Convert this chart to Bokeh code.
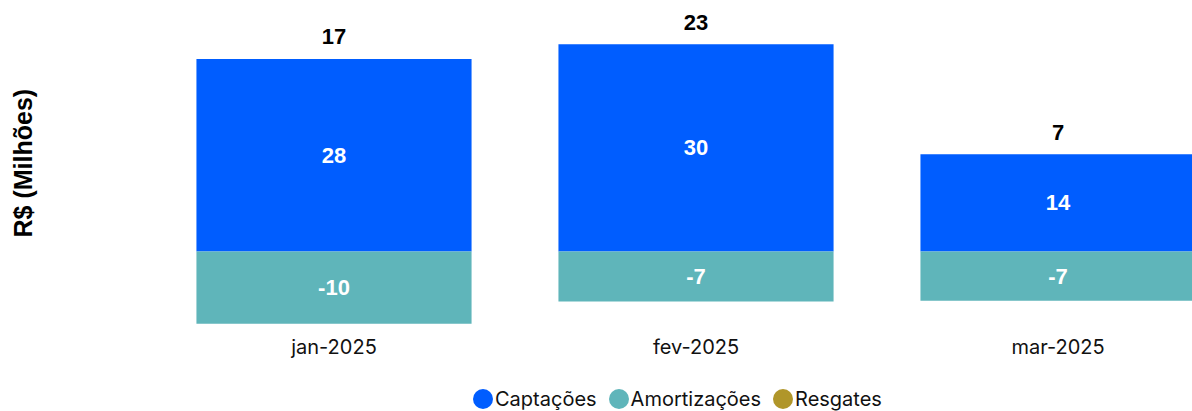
from bokeh.plotting import figure
from bokeh.layouts import column
from bokeh.models import ColumnDataSource, Range1d, FixedTicker, Legend, LegendItem, Title
from bokeh.core.properties import value
from bokeh.embed import file_html
from bokeh.resources import INLINE

# ---- data ----
meses = ["jan-2025", "fev-2025", "mar-2025"]
captacoes = [27.7, 29.8, 14.0]
amortizacoes = [-10.4, -7.2, -7.1]
resgates = [0.0, 0.0, 0.0]
series = ["Captações", "Amortizações", "Resgates"]

COL_CAP = "#005DFF"
COL_AMO = "#5FB5BA"
COL_RES = "#B0962A"

idx = list(range(len(meses)))
totais = [c + a + r for c, a, r in zip(captacoes, amortizacoes, resgates)]
neg_base = [a + r for a, r in zip(amortizacoes, resgates)]

src = ColumnDataSource(dict(
    x=idx,
    cap=captacoes,
    amo=amortizacoes,
    res_top=amortizacoes,
    res_bot=neg_base,
    cap_mid=[c / 2 for c in captacoes],
    amo_mid=[a / 2 for a in amortizacoes],
    cap_lbl=[f"{c:.0f}" for c in captacoes],
    amo_lbl=[f"{a:.0f}" for a in amortizacoes],
    tot_lbl=[f"{t:.0f}" for t in totais],
))

p = figure(width=1192, height=373, output_backend="svg", toolbar_location=None,
           x_range=Range1d(-0.808, 2.3715), y_range=Range1d(-11.37, 34.96),
           min_border_left=41, min_border_right=0, min_border_top=8, min_border_bottom=43)
p.outline_line_color = None
p.xgrid.visible = False
p.ygrid.visible = False
p.yaxis.visible = False

W = 0.76
p.vbar(x="x", top="cap", bottom=0, width=W, color=COL_CAP, line_color=None, source=src)
p.vbar(x="x", top=0, bottom="amo", width=W, color=COL_AMO, line_color=None, source=src)
p.vbar(x="x", top="res_top", bottom="res_bot", width=W, color=COL_RES, line_color=None, source=src)

bold = value("Liberation Sans")
p.text(x="x", y="cap_mid", text="cap_lbl", source=src, text_color="white",
       text_font=bold, text_font_style="bold", text_font_size="22px",
       text_align="center", text_baseline="middle")
p.text(x="x", y="amo_mid", text="amo_lbl", source=src, text_color="white",
       text_font=bold, text_font_style="bold", text_font_size="22px",
       text_align="center", text_baseline="middle")
p.text(x="x", y="cap", text="tot_lbl", source=src, text_color="black",
       text_font=bold, text_font_style="bold", text_font_size="22px",
       text_align="center", text_baseline="alphabetic", y_offset=-22)

ax = p.xaxis[0]
ax.ticker = FixedTicker(ticks=idx)
ax.major_label_overrides = {i: m for i, m in zip(idx, meses)}
ax.axis_line_color = None
ax.major_tick_line_color = None
ax.minor_tick_line_color = None
ax.major_tick_in = 0
ax.major_tick_out = 0
ax.major_label_standoff = 4
ax.major_label_text_font = "Inter"
ax.major_label_text_font_size = "20px"
ax.major_label_text_color = "#111111"

p.add_layout(Title(text="R$ (Milhões)", align="left", offset=93, text_font="Liberation Sans",
                   text_font_style="bold", text_font_size="25px", text_color="black"), "left")

# legend figure: ellipse renderers (kept off-frame) so the legend draws round swatches
lg = figure(width=1192, height=38, output_backend="svg", toolbar_location=None,
            x_range=Range1d(-1, 3), y_range=Range1d(1000, 1001),
            x_axis_type=None, y_axis_type=None,
            min_border_left=0, min_border_right=0, min_border_top=0, min_border_bottom=0)
lg.outline_line_color = None
lg.xgrid.visible = False
lg.ygrid.visible = False
rs = [lg.ellipse(x="x", y=col, source=src, width=1, height=1,
                 width_units="screen", height_units="screen", color=c, line_color=None)
      for c, col in ((COL_CAP, "cap"), (COL_AMO, "amo"), (COL_RES, "res_top"))]
leg = Legend(items=[LegendItem(label=s, renderers=[r]) for s, r in zip(series, rs)],
             orientation="horizontal", location=(429, 0),
             glyph_width=25, glyph_height=25, label_standoff=0, spacing=9,
             padding=0, margin=0, border_line_color=None, background_fill_alpha=0,
             label_text_font="Inter", label_text_font_size="20px", label_text_color="#111111",
             label_text_baseline="middle")
lg.add_layout(leg)

layout = column(p, lg, spacing=0)
open("out.html", "w").write(file_html(layout, INLINE))
